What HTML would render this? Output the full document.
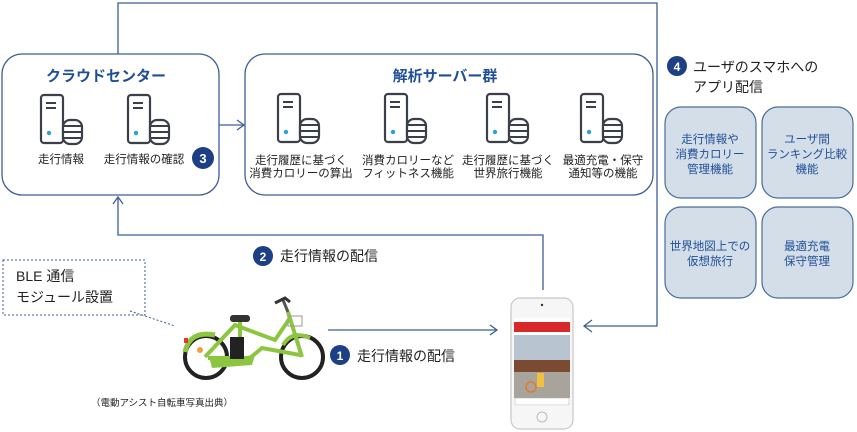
<!DOCTYPE html>
<html><head><meta charset="utf-8"><style>
html,body{margin:0;padding:0;background:#fff;}
svg{display:block;}
text{font-family:"Liberation Sans","Noto Sans CJK JP",sans-serif;}
</style></head><body>
<svg width="857" height="432" viewBox="0 0 857 432" xmlns="http://www.w3.org/2000/svg">
<defs>
<g id="srv">
  <rect x="0" y="0" width="22" height="48" rx="3" fill="#fff" stroke="#3a3f4a" stroke-width="2.2"/>
  <line x1="5" y1="8" x2="15" y2="8" stroke="#3a3f4a" stroke-width="2"/>
  <line x1="5" y1="13" x2="15" y2="13" stroke="#3a3f4a" stroke-width="2"/>
  <circle cx="8" cy="38" r="2.2" fill="#2a9fd8"/>
  <rect x="22" y="25" width="19" height="24" rx="7" fill="#fff" stroke="#3a3f4a" stroke-width="2.2"/>
  <line x1="22" y1="31" x2="41" y2="31" stroke="#3a3f4a" stroke-width="2"/>
  <line x1="22" y1="37" x2="41" y2="37" stroke="#3a3f4a" stroke-width="2"/>
  <line x1="22" y1="43" x2="41" y2="43" stroke="#3a3f4a" stroke-width="2"/>
</g>
</defs>
<g fill="none" stroke="#3d5f94" stroke-width="1.3">
  <!-- top loop -->
  <polyline points="118,54 118,3 657,3 657,326 584,326"/>
  <polyline points="592,320 584,326 592,332"/>
  <!-- cloud to analysis -->
  <line x1="219" y1="125" x2="244" y2="125"/>
  <polyline points="237,120 244,125 237,130"/>
  <!-- phone to cloud -->
  <polyline points="543,290 543,235 118,235 118,197"/>
  <polyline points="113,204 118,197 123,204"/>
  <!-- bike to phone -->
  <line x1="328" y1="330" x2="497" y2="330"/>
  <polyline points="490,325 497,330 490,335"/>
</g>
<rect x="2" y="54" width="217" height="141" rx="20" fill="#fff" stroke="#3d5f94" stroke-width="1.3"/>
<rect x="245" y="54" width="408" height="141" rx="20" fill="#fff" stroke="#3d5f94" stroke-width="1.3"/>
<text x="106" y="81" font-size="15" font-weight="bold" fill="#1f4f96" text-anchor="middle">クラウドセンター</text>
<text x="445" y="81" font-size="15" font-weight="bold" fill="#1f4f96" text-anchor="middle">解析サーバー群</text>
<use href="#srv" x="41" y="95"/>
<use href="#srv" x="128" y="95"/>
<g font-size="11.5" fill="#222" text-anchor="middle">
<text x="61" y="163">走行情報</text>
<text x="144" y="163">走行情報の確認</text>
</g>
<circle cx="203" cy="158" r="11" fill="#1d3f85"/>
<text x="203" y="163" font-size="13" font-weight="bold" fill="#fff" text-anchor="middle">3</text>
<use href="#srv" x="278" y="94"/>
<use href="#srv" x="385" y="94"/>
<use href="#srv" x="487" y="94"/>
<use href="#srv" x="581" y="94"/>
<g font-size="11.5" fill="#222" text-anchor="middle">
<text x="301" y="164">走行履歴に基づく</text><text x="301" y="177">消費カロリーの算出</text>
<text x="408" y="164">消費カロリーなど</text><text x="408" y="177">フィットネス機能</text>
<text x="508" y="164">走行履歴に基づく</text><text x="508" y="177">世界旅行機能</text>
<text x="603" y="164">最適充電・保守</text><text x="603" y="177">通知等の機能</text>
</g>
<!-- 4 -->
<circle cx="677" cy="66" r="10" fill="#1d3f85"/>
<text x="677" y="71" font-size="12" font-weight="bold" fill="#fff" text-anchor="middle">4</text>
<text x="693" y="72" font-size="14" fill="#222">ユーザのスマホへの</text>
<text x="693" y="92" font-size="14" fill="#222">アプリ配信</text>
<g fill="#d4dee9" stroke="#4a6e9a" stroke-width="1.2">
<rect x="665" y="107" width="91" height="91" rx="16"/>
<rect x="762" y="107" width="91" height="91" rx="16"/>
<rect x="665" y="207" width="91" height="91" rx="16"/>
<rect x="762" y="207" width="91" height="91" rx="16"/>
</g>
<g font-size="11.5" fill="#1f4f96" text-anchor="middle">
<text x="710" y="143">走行情報や</text><text x="710" y="158">消費カロリー</text><text x="710" y="173">管理機能</text>
<text x="807" y="143">ユーザ間</text><text x="807" y="158">ランキング比較</text><text x="807" y="173">機能</text>
<text x="710" y="250">世界地図上での</text><text x="710" y="265">仮想旅行</text>
<text x="807" y="250">最適充電</text><text x="807" y="265">保守管理</text>
</g>
<!-- 2 -->
<circle cx="263" cy="256" r="10" fill="#1d3f85"/>
<text x="263" y="261" font-size="12" font-weight="bold" fill="#fff" text-anchor="middle">2</text>
<text x="280" y="261" font-size="14" fill="#222">走行情報の配信</text>
<!-- 1 -->
<circle cx="340" cy="355" r="10" fill="#1d3f85"/>
<text x="340" y="360" font-size="12" font-weight="bold" fill="#fff" text-anchor="middle">1</text>
<text x="357" y="361" font-size="14" fill="#222">走行情報の配信</text>
<!-- BLE -->
<rect x="3" y="260" width="142" height="55" fill="#fff" stroke="#3d5f94" stroke-width="1" stroke-dasharray="2,2"/>
<text x="16" y="281" font-size="14" fill="#222">BLE 通信</text>
<text x="16" y="302" font-size="14" fill="#222">モジュール設置</text>
<line x1="130" y1="311" x2="175" y2="326" stroke="#3d5f94" stroke-width="1" stroke-dasharray="2,2"/>
<!-- bike -->
<g>
  <circle cx="206" cy="357" r="21" fill="#fff" stroke="#222" stroke-width="4"/>
  <circle cx="302" cy="357" r="21" fill="#fff" stroke="#222" stroke-width="4"/>
  <path d="M185,352 Q190,330 215,335" fill="none" stroke="#8cc63f" stroke-width="5"/>
  <path d="M283,345 Q292,330 310,338" fill="none" stroke="#8cc63f" stroke-width="4"/>
  <path d="M208,358 L250,358 L262,348 L300,355" fill="none" stroke="#8cc63f" stroke-width="4"/>
  <path d="M205,357 L235,325 L275,340 L290,318" fill="none" stroke="#8cc63f" stroke-width="4"/>
  <path d="M210,360 L255,355 L252,365 L212,368 Z" fill="#8cc63f"/>
  <line x1="302" y1="357" x2="288" y2="312" stroke="#8cc63f" stroke-width="4"/>
  <line x1="288" y1="312" x2="283" y2="300" stroke="#555" stroke-width="3"/>
  <path d="M275,303 L285,298 L290,302" fill="none" stroke="#333" stroke-width="3"/>
  <rect x="230" y="337" width="14" height="22" fill="#222"/>
  <line x1="240" y1="337" x2="240" y2="320" stroke="#8cc63f" stroke-width="4"/>
  <rect x="230" y="315" width="20" height="7" rx="3" fill="#333"/>
  <rect x="288" y="316" width="14" height="10" fill="none" stroke="#999" stroke-width="1"/>
  <circle cx="200" cy="350" r="3" fill="#f39c3c"/>
  <rect x="184" y="338" width="4" height="5" fill="#e33"/>
</g>
<text x="162" y="406" font-size="9.5" fill="#222" text-anchor="middle">（電動アシスト自転車写真出典）</text>
<!-- phone -->
<rect x="511" y="298" width="62" height="131" rx="9" fill="#f6f6f6" stroke="#c8c8c8" stroke-width="1.2"/>
<circle cx="542" cy="305" r="1.2" fill="#333"/>
<rect x="514" y="318" width="56" height="88" fill="#fff"/>
<rect x="514" y="322" width="56" height="10" fill="#d8282a"/>
<rect x="514" y="335" width="56" height="25" fill="#b8c4cf"/>
<rect x="514" y="360" width="56" height="12" fill="#7a4a32"/>
<rect x="514" y="372" width="56" height="26" fill="#a8a49c"/>
<circle cx="531" cy="387" r="5" fill="none" stroke="#e07a2a" stroke-width="1.5"/>
<rect x="537" y="373" width="7" height="14" fill="#f0c040"/>
<rect x="515" y="398" width="54" height="7" fill="#fff" stroke="#aaa" stroke-width="0.5"/>
<circle cx="542" cy="417" r="5" fill="none" stroke="#bbb" stroke-width="1"/>
</svg>
</body></html>
